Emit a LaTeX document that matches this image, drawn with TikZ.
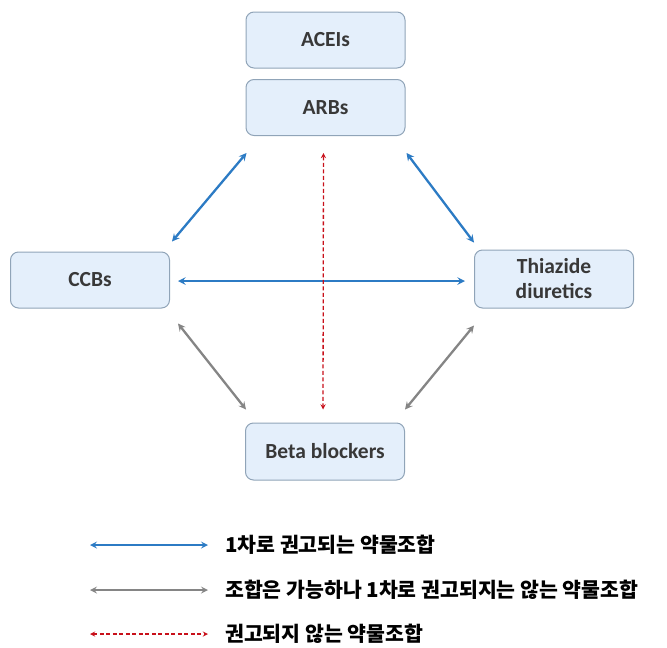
\documentclass[tikz,border=0pt]{standalone}
\usepackage{fontspec}
\setmainfont{Carlito}
\newfontfamily\kr{Noto Sans CJK KR}
\usetikzlibrary{arrows}
\definecolor{boxfill}{HTML}{E4EFFB}
\definecolor{boxline}{HTML}{90A4B8}
\definecolor{recblue}{HTML}{2C7BC4}
\definecolor{okgray}{HTML}{858585}
\definecolor{nored}{HTML}{C8101A}
\tikzstyle{drug} = [rectangle, rounded corners=8pt, minimum width=159pt, minimum height=56pt, inner sep=0pt, align=center, draw=boxline, fill=boxfill, line width=1pt, text=black!78, font=\fontsize{21.5}{25}\selectfont\bfseries]
\tikzstyle{first} = [recblue, line width=2.3pt, <->, >=stealth]
\tikzstyle{possible} = [okgray, line width=2.3pt, <->, >=stealth]
\tikzstyle{notrec} = [nored, line width=1.3pt, dash pattern=on 4pt off 2.5pt, <->, >=stealth]
\tikzstyle{legtext} = [anchor=west, inner sep=0pt, font=\kr\fontsize{20.5}{23}\selectfont\bfseries]

\begin{document}
\begin{tikzpicture}[x=1pt, y=-1pt]
	\useasboundingbox (0,0) rectangle (667,648);

	\node (acei) [drug] at (325.5,40) {ACEIs};
	\node (arb) [drug] at (325.5,107.5) {ARBs};
	\node (ccb) [drug] at (90,280) {CCBs};
	\node (thi) [drug, minimum height=58pt] at (554,279) {Thiazide\\diuretics};
	\node (beta) [drug, minimum height=57pt] at (325,451.5) {Beta blockers};

\draw [first] ([shift={(1,17)}]arb.south west) -- ([shift={(2,-10)}]ccb.north east);
\draw [first] ([shift={(1,17)}]arb.south east) -- ([shift={(0,-7)}]thi.north west);
\draw [first] ([shift={(8,1)}]ccb.east) -- ([shift={(-9,2)}]thi.west);
\draw [notrec] ([shift={(-2,17)}]arb.south) -- ([shift={(-2,-13)}]beta.north);
\draw [possible] ([shift={(8,15)}]ccb.south east) -- ([shift={(1,-13)}]beta.north west);
\draw [possible] ([shift={(0,17)}]thi.south west) -- ([shift={(0,-13)}]beta.north east);

	% legend
	\coordinate (l1a) at (90,545);
	\coordinate (l1b) at (208,545);
	\coordinate (l2a) at (90,590);
	\coordinate (l2b) at (208,590);
	\coordinate (l3a) at (90,634);
	\coordinate (l3b) at (208,634);
	\node (t1) [legtext] at (225,545) {1차로 권고되는 약물조합};
	\node (t2) [legtext] at (225,590) {조합은 가능하나 1차로 권고되지는 않는 약물조합};
	\node (t3) [legtext] at (225,634) {권고되지 않는 약물조합};

\draw [first, line width=2pt] (l1a) -- (l1b);
\draw [possible, line width=2pt] (l2a) -- (l2b);
\draw [notrec] (l3a) -- (l3b);

\end{tikzpicture}
\end{document}
